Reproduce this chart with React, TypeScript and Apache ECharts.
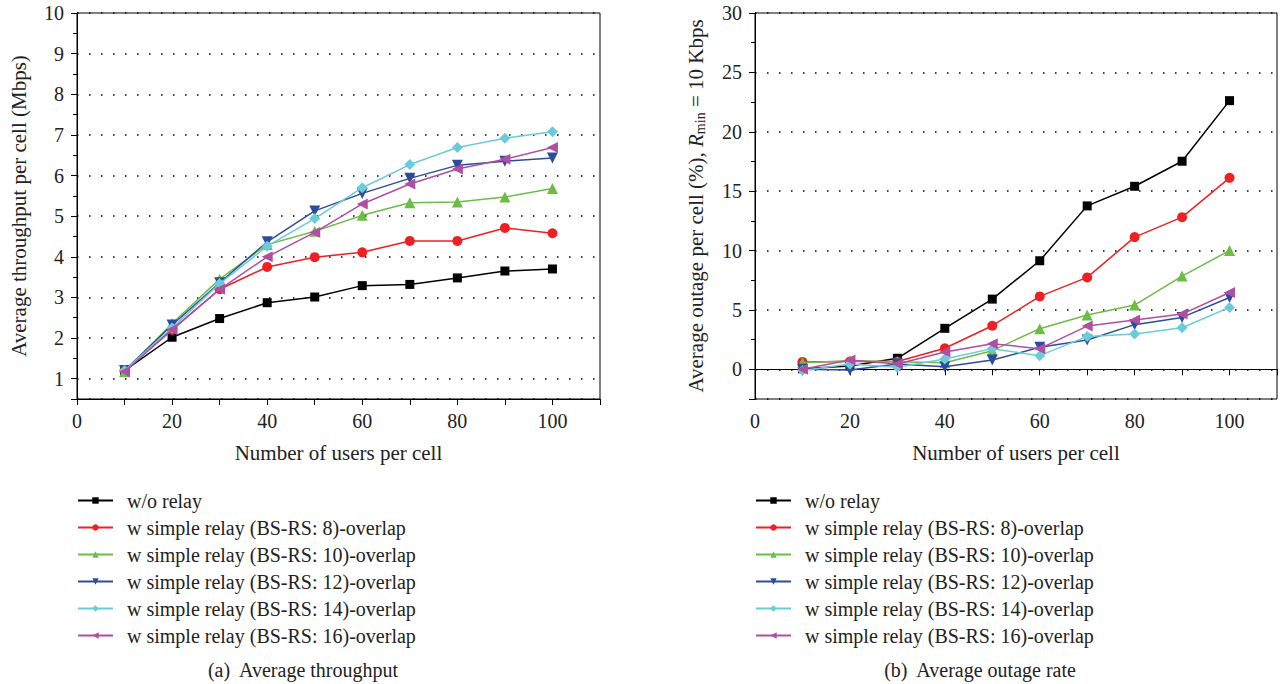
import React, { useEffect, useRef } from 'react';
import * as echarts from 'echarts';

const users = [10, 20, 30, 40, 50, 60, 70, 80, 90, 100];

const seriesNames = [
  'w/o relay',
  'w simple relay (BS-RS: 8)-overlap',
  'w simple relay (BS-RS: 10)-overlap',
  'w simple relay (BS-RS: 12)-overlap',
  'w simple relay (BS-RS: 14)-overlap',
  'w simple relay (BS-RS: 16)-overlap',
];

const seriesColors = ['#000000', '#ed2024', '#6cbd45', '#2d4c9c', '#6ccbd8', '#b04ea2'];

// Throughput (Mbps)
const thrWoRelay = [1.2, 2.02, 2.48, 2.87, 3.01, 3.29, 3.32, 3.48, 3.65, 3.7];
const thrBsRs8 = [1.2, 2.2, 3.2, 3.75, 3.99, 4.11, 4.39, 4.39, 4.71, 4.58];
const thrBsRs10 = [1.17, 2.36, 3.45, 4.3, 4.63, 5.02, 5.33, 5.35, 5.47, 5.68];
const thrBsRs12 = [1.2, 2.32, 3.36, 4.37, 5.13, 5.56, 5.93, 6.25, 6.35, 6.43];
const thrBsRs14 = [1.2, 2.25, 3.34, 4.26, 4.94, 5.7, 6.27, 6.69, 6.92, 7.08];
const thrBsRs16 = [1.17, 2.21, 3.2, 4.0, 4.6, 5.3, 5.79, 6.16, 6.4, 6.69];

// Outage (%)
const outWoRelay = [0.05, 0.28, 0.93, 3.45, 5.91, 9.14, 13.76, 15.41, 17.52, 22.62];
const outBsRs8 = [0.62, 0.65, 0.65, 1.77, 3.67, 6.14, 7.74, 11.13, 12.81, 16.12];
const outBsRs10 = [0.56, 0.73, 0.64, 0.56, 1.57, 3.42, 4.57, 5.41, 7.85, 10.0];
const outBsRs12 = [0.0, -0.05, 0.45, 0.22, 0.78, 1.85, 2.47, 3.76, 4.37, 6.05];
const outBsRs14 = [-0.1, 0.45, 0.17, 0.87, 1.74, 1.15, 2.77, 2.97, 3.5, 5.21];
const outBsRs16 = [0.0, 0.78, 0.45, 1.46, 2.16, 1.74, 3.64, 4.15, 4.65, 6.47];

const throughputSets = [thrWoRelay, thrBsRs8, thrBsRs10, thrBsRs12, thrBsRs14, thrBsRs16];
const outageSets = [outWoRelay, outBsRs8, outBsRs10, outBsRs12, outBsRs14, outBsRs16];

const FONT = "'Liberation Serif', 'DejaVu Serif', 'Times New Roman', serif";
const symbols = ['rect', 'circle', 'triangle', 'triangle', 'path://M0,-1L1,0L0,1L-1,0Z', 'triangle'];
const symbolRotates = [0, 0, 0, 180, 0, 90];
const symbolSizes = [9, 10, 11, 11, 11, 11];

const xTickLabels = ['0', '20', '40', '60', '80', '100'];

function makeSeries(sets: number[][], gridIndex: number) {
  return sets.map((vals, i) => ({
    name: seriesNames[i],
    type: 'line',
    xAxisIndex: gridIndex,
    yAxisIndex: gridIndex,
    data: users.map((u, k) => [u, vals[k]]),
    symbol: symbols[i],
    symbolRotate: symbolRotates[i],
    symbolSize: symbolSizes[i],
    showAllSymbol: true,
    lineStyle: { color: seriesColors[i], width: 1.5 },
    itemStyle: { color: seriesColors[i] },
    z: 2 + i,
  }));
}

function xAxisFor(gridIndex: number) {
  return {
    type: 'value',
    gridIndex,
    min: 0,
    max: 110,
    interval: 10,
    name: 'Number of users per cell',
    nameLocation: 'middle',
    nameGap: 43,
    nameTextStyle: { fontFamily: FONT, fontSize: 21, color: '#222' },
    axisLine: { show: true, lineStyle: { color: '#000', width: 1 } },
    axisTick: { show: true, length: 6, lineStyle: { color: '#000' } },
    axisLabel: {
      fontFamily: FONT,
      fontSize: 20,
      color: '#222',
      margin: 12,
      formatter: (v: number) => (xTickLabels.includes(String(v)) ? String(v) : ''),
    },
    splitLine: { show: false },
  };
}

function yAxisFor(gridIndex: number, min: number, max: number, splitNumber: number, name: string, rich?: any) {
  return {
    type: 'value',
    gridIndex,
    min,
    max,
    splitNumber,
    name,
    nameLocation: 'middle',
    nameGap: 48,
    nameRotate: 90,
    nameTextStyle: { fontFamily: FONT, fontSize: 21, color: '#222', rich },
    axisLine: { show: true, lineStyle: { color: '#000', width: 1 } },
    axisTick: { show: true, length: 6, lineStyle: { color: '#000' } },
    minorTick: { show: true, splitNumber: 2, length: 4, lineStyle: { color: '#000' } },
    axisLabel: { fontFamily: FONT, fontSize: 20, color: '#222', margin: 13, showMinLabel: false },
    splitLine: { show: true, lineStyle: { color: '#000', type: [1.5, 10.5], width: 1.5 } },
  };
}

function legendFor(left: number) {
  return {
    orient: 'vertical',
    left,
    top: 490,
    padding: 0,
    itemWidth: 35,
    itemHeight: 8,
    itemGap: 6,
    data: seriesNames,
    selectedMode: false,
    textStyle: { fontFamily: FONT, fontSize: 20, color: '#222', lineHeight: 21, padding: [0, 0, 0, 9] },
  };
}

export default function App() {
  const ref = useRef<HTMLDivElement>(null);
  useEffect(() => {
    if (!ref.current) return;
    const chart = echarts.init(ref.current, undefined, { renderer: 'svg' });
    const richY = {
      i: { fontFamily: FONT, fontSize: 21, fontStyle: 'italic', color: '#222' },
      s: { fontFamily: FONT, fontSize: 14, color: '#222', padding: [9, 0, 0, 0] },
    };
    chart.setOption({
      animation: false,
      backgroundColor: '#fff',
      title: [
        { text: '(a)  Average throughput', left: 303, top: 660, textAlign: 'center', padding: 0, textStyle: { fontFamily: FONT, fontSize: 20, fontWeight: 'normal', color: '#222' } },
        { text: '(b)  Average outage rate', left: 980, top: 660, textAlign: 'center', padding: 0, textStyle: { fontFamily: FONT, fontSize: 20, fontWeight: 'normal', color: '#222' } },
      ],
      grid: [
        { left: 77, top: 13, width: 523, height: 386, show: true, borderColor: '#000', borderWidth: 1, backgroundColor: 'transparent' },
        { left: 755, top: 13, width: 523, height: 386, show: true, borderColor: '#000', borderWidth: 1, backgroundColor: 'transparent' },
      ],
      legend: [legendFor(77), legendFor(755)],
      xAxis: [xAxisFor(0), xAxisFor(1)],
      yAxis: [
        yAxisFor(0, 0.5, 10, 10, 'Average throughput per cell (Mbps)'),
        yAxisFor(1, -2.5, 30, 7, 'Average outage per cell (%), {i|R}{s|min} = 10 Kbps', richY),
      ],
      series: [...makeSeries(throughputSets, 0), ...makeSeries(outageSets, 1)],
    });
    return () => chart.dispose();
  }, []);
  return <div ref={ref} style={{ position: 'fixed', left: 0, top: 0, width: 1280, height: 684 }} />;
}
